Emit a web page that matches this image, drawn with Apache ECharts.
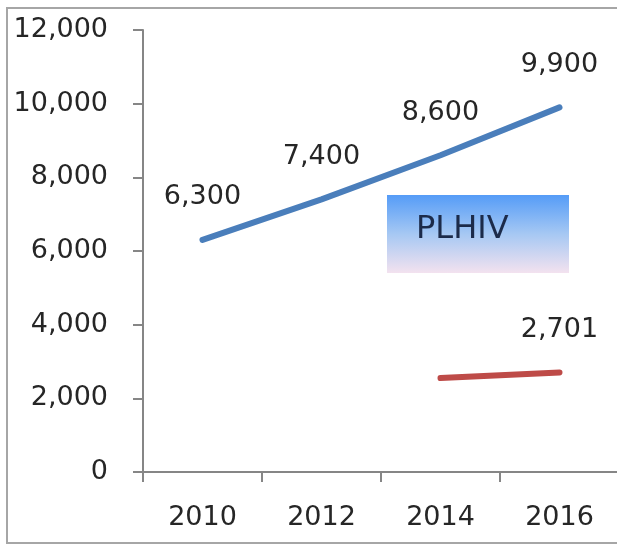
<!DOCTYPE html>
<html>
<head>
<meta charset="utf-8">
<script src="https://cdn.jsdelivr.net/npm/echarts@6/dist/echarts.min.js"></script>
<style>
  html, body { margin: 0; padding: 0; background: #fff; }
  #main { width: 617px; height: 545px; }
</style>
</head>
<body>
<div id="main"></div>
<script>
// data
const years = ['2010', '2012', '2014', '2016'];
const plhiv = [6300, 7400, 8600, 9900];
const second = [null, null, 2550, 2701];
const secondLabelled = [false, false, false, true];
const boxTitle = 'PLHIV';

const font = 'DejaVu Sans';
const textColor = '#262626';

const chart = echarts.init(document.getElementById('main'));

function fmt(v) {
  return v.toLocaleString('en-US');
}

const option = {
  backgroundColor: '#fff',
  animation: false,
  grid: {
    left: 143,
    top: 30,
    width: 476,
    height: 442,
    outerBoundsMode: 'none'
  },
  xAxis: {
    type: 'category',
    data: years,
    boundaryGap: true,
    axisLine: { lineStyle: { color: '#868686', width: 2 } },
    axisTick: { show: true, length: 10, lineStyle: { color: '#868686', width: 2 } },
    axisLabel: {
      color: textColor,
      fontFamily: font,
      fontSize: 27,
      margin: 32
    },
    splitLine: { show: false }
  },
  yAxis: {
    type: 'value',
    min: 0,
    max: 12000,
    interval: 2000,
    axisLine: { show: true, lineStyle: { color: '#868686', width: 2 } },
    axisTick: { show: true, length: 10, lineStyle: { color: '#868686', width: 2 } },
    axisLabel: {
      color: textColor,
      fontFamily: font,
      fontSize: 27,
      margin: 35,
      formatter: fmt
    },
    splitLine: { show: false }
  },
  series: [
    {
      name: 'PLHIV',
      type: 'line',
      data: plhiv,
      showSymbol: true,
      symbol: 'circle',
      symbolSize: 2,
      itemStyle: { color: 'rgba(0,0,0,0)', borderWidth: 0 },
      lineStyle: { width: 6, color: '#4a7ebb', cap: 'round' },
      label: {
        show: true,
        position: 'top',
        distance: 28,
        color: textColor,
        fontFamily: font,
        fontSize: 27,
        formatter: function (p) {
          return fmt(p.value);
        }
      }
    },
    {
      name: 'second',
      type: 'line',
      data: second,
      showSymbol: true,
      symbol: 'circle',
      symbolSize: 2,
      itemStyle: { color: 'rgba(0,0,0,0)', borderWidth: 0 },
      lineStyle: { width: 6, color: '#be4b48', cap: 'round' },
      label: {
        show: true,
        position: 'top',
        distance: 28,
        color: textColor,
        fontFamily: font,
        fontSize: 27,
        formatter: function (p) {
          return secondLabelled[p.dataIndex] ? fmt(p.value) : '';
        }
      }
    }
  ],
  graphic: [
    {
      type: 'polyline',
      shape: { points: [[660, 8], [7, 8], [7, 543], [660, 543]] },
      style: { fill: 'none', stroke: '#a6a6a6', lineWidth: 2 },
      silent: true
    },
    {
      type: 'group',
      x: 387,
      y: 195,
      children: [
        {
          type: 'rect',
          shape: { x: 0, y: 0, width: 182, height: 78 },
          style: {
            fill: new echarts.graphic.LinearGradient(0, 0, 0, 1, [
              { offset: 0, color: '#559cf7' },
              { offset: 0.5, color: '#a6c8f3' },
              { offset: 1, color: '#f3e2ef' }
            ])
          }
        },
        {
          type: 'text',
          x: 29,
          y: 35,
          style: {
            text: boxTitle,
            fill: '#1c2b4a',
            font: '32px "DejaVu Sans"',
            verticalAlign: 'middle'
          }
        }
      ]
    }
  ]
};

chart.setOption(option);
</script>
</body>
</html>
